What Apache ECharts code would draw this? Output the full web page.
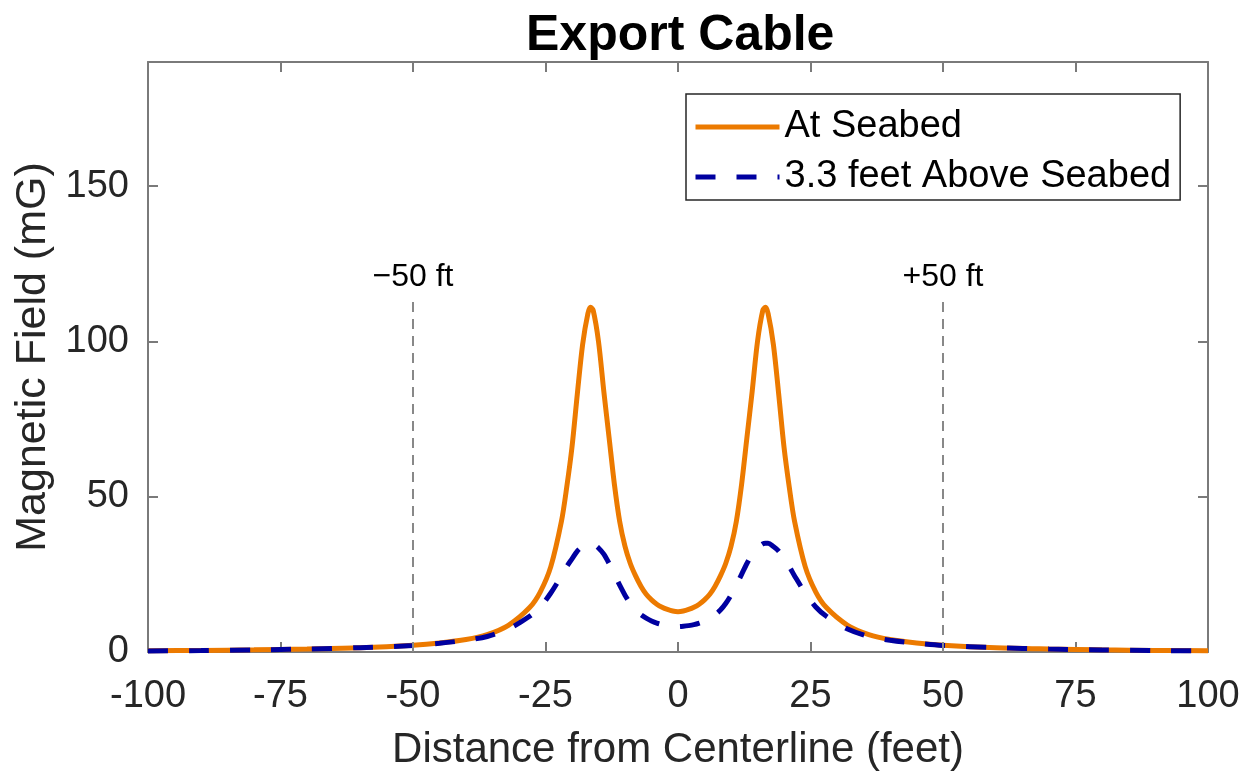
<!DOCTYPE html>
<html lang="en">

<head>
  <meta charset="utf-8">
  <title>Export Cable</title>
  <style>
    * {
      margin: 0;
      padding: 0;
    }

    #chart-container {
      width: 1248px;
      height: 776px;
      overflow: hidden;
    }
  </style>
</head>

<body>
  <div id="chart-container"></div>
  <script src="https://fastly.jsdelivr.net/npm/echarts@6/dist/echarts.min.js"></script>
  <script>
    var dom = document.getElementById('chart-container');
    var myChart = echarts.init(dom, null, { renderer: 'canvas' });

    // distance from centerline (feet)
    const distance = [
      -100, -90, -80, -70, -60, -50, -45, -40, -36, -32, -28, -26, -24, -22, -21, -20, -19, -18, -17, -16.5,
      -16, -15, -14, -13, -12, -11, -10, -9, -8, -7, -6, -5, -4, -3, -2, -1, 0,
      1, 2, 3, 4, 5, 6, 7, 8, 9, 10, 11, 12, 13, 14, 15, 16,
      16.5, 17, 18, 19, 20, 21, 22, 24, 26, 28, 32, 36, 40, 45, 50, 60, 70, 80, 90, 100
    ];
    // magnetic field at seabed (mG)
    const atSeabed = [
      0.4, 0.5, 0.7, 1.0, 1.4, 2.2, 2.9, 4.0, 5.6, 8.6, 14.3, 19.3, 27.5, 42, 53, 66, 83, 99, 109, 111,
      110, 100, 84, 69, 54, 42, 34, 28.5, 24.5, 21.2, 18.6, 16.8, 15.4, 14.4, 13.7, 13.2, 13.0,
      13.2, 13.7, 14.4, 15.4, 16.8, 18.6, 21.2, 24.5, 28.5, 34, 42, 54, 69, 84, 100, 110,
      111, 109, 99, 83, 66, 53, 42, 27.5, 19.3, 14.3, 8.6, 5.6, 4.0, 2.9, 2.2, 1.4, 1.0, 0.7, 0.5, 0.4
    ];
    // magnetic field 3.3 feet above seabed (mG)
    const aboveSeabed = [
      0.35, 0.45, 0.65, 0.95, 1.4, 2.1, 2.8, 3.8, 5.0, 7.4, 11.5, 14.5, 19, 24.5, 27.5, 30, 32.5, 34, 35, 35,
      34.8, 33.5, 31.5, 28.5, 25, 21.5, 18.3, 15.6, 13.5, 12, 10.9, 10, 9.3, 8.8, 8.5, 8.3, 8.2,
      8.3, 8.5, 8.8, 9.3, 10, 10.9, 12, 13.5, 15.6, 18.3, 21.5, 25, 28.5, 31.5, 33.5, 34.8,
      35, 35, 34, 32.5, 30, 27.5, 24.5, 19, 14.5, 11.5, 7.4, 5.0, 3.8, 2.8, 2.1, 1.4, 0.95, 0.65, 0.45, 0.35
    ];
    const seriesNames = ['At Seabed', '3.3 feet Above Seabed'];
    const refLines = [-50, 50];
    const refLabels = ['\u221250 ft', '+50 ft'];

    const frame = '#7a7a7a';
    const font = 'Liberation Sans, Arial, sans-serif';

    function axisBase(show) {
      return {
        type: 'value',
        axisLine: { show: true, onZero: false, lineStyle: { color: frame, width: 2 } },
        axisTick: { show: true, inside: true, length: 10, lineStyle: { color: frame, width: 2 } },
        splitLine: { show: false },
        axisLabel: {
          show: show, color: '#262626', fontSize: 38, fontFamily: font,
          formatter: function (v) { return v % 25 === 0 ? String(v) : ''; }
        }
      };
    }

    var xBottom = Object.assign(axisBase(true), {
      position: 'bottom', min: -100, max: 100, interval: 25,
      name: 'Distance from Centerline (feet)', nameLocation: 'middle', nameGap: 77,
      nameTextStyle: { color: '#262626', fontSize: 42, fontFamily: font }
    });
    xBottom.axisLabel.margin = 26;
    var xTop = Object.assign(axisBase(false), { position: 'top', min: -100, max: 100, interval: 25 });
    var yLeft = Object.assign(axisBase(true), {
      position: 'left', min: 0, max: 190, interval: 50,
      name: 'Magnetic Field (mG)', nameLocation: 'middle', nameGap: 84,
      nameTextStyle: { color: '#262626', fontSize: 43, fontFamily: font }
    });
    yLeft.axisLabel.margin = 19;
    yLeft.axisLabel.formatter = function (v) { return v % 50 === 0 ? String(v) : ''; };
    var yRight = Object.assign(axisBase(false), { position: 'right', min: 0, max: 190, interval: 50 });

    var refData = refLines.map(function (x, i) {
      return [
        { coord: [x, 0] },
        {
          coord: [x, 115],
          label: { show: true, position: 'end', formatter: refLabels[i], distance: 2, color: '#000', fontSize: 32, fontFamily: font }
        }
      ];
    });

    var option = {
      animation: false,
      title: {
        text: 'Export Cable', left: 521, top: 6,
        textStyle: { fontSize: 50, fontWeight: 'bold', color: '#000', fontFamily: font }
      },
      grid: { left: 148, right: 40, top: 62, bottom: 121 },
      legend: {
        left: 686, top: 94, orient: 'vertical',
        backgroundColor: '#fff', borderColor: '#262626', borderWidth: 1.5, borderRadius: 0,
        padding: [13, 9, 3, 7], itemGap: 10, itemWidth: 84, itemHeight: 20,
        itemStyle: { opacity: 0 },
        lineStyle: { width: 5 },
        textStyle: { color: '#000', fontSize: 38, fontFamily: font, lineHeight: 40 },
        data: seriesNames
      },
      xAxis: [xBottom, xTop],
      yAxis: [yLeft, yRight],
      series: [
        {
          name: seriesNames[0], type: 'line', showSymbol: false, symbol: 'none',
          smooth: 0.3, z: 3,
          lineStyle: { color: '#EC7A00', width: 5 },
          itemStyle: { color: '#EC7A00' },
          data: distance.map(function (x, i) { return [x, atSeabed[i]]; }),
          markLine: {
            silent: true, symbol: ['none', 'none'],
            lineStyle: { color: '#888', width: 2, type: [10, 7] },
            label: { show: false },
            data: refData
          }
        },
        {
          name: seriesNames[1], type: 'line', showSymbol: false, symbol: 'none',
          smooth: 0.3, z: 4,
          lineStyle: { color: '#0000A0', width: 5, type: [20, 21] },
          itemStyle: { color: '#0000A0' },
          data: distance.map(function (x, i) { return [x, aboveSeabed[i]]; })
        }
      ]
    };

    myChart.setOption(option);
    window.addEventListener('resize', myChart.resize);
  </script>
</body>

</html>
